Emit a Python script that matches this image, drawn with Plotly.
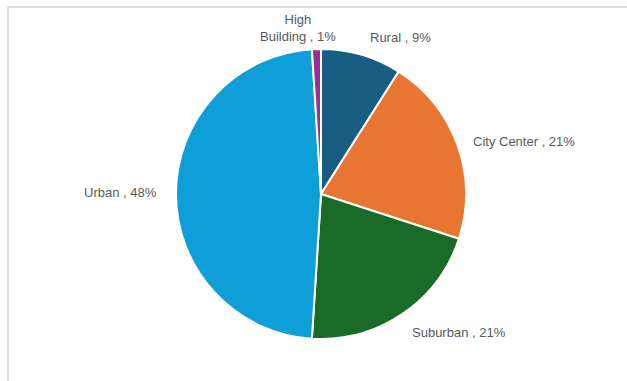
import plotly.graph_objects as go

labels = ["Rural", "City Center", "Suburban", "Urban", "High Building"]
values = [9, 21, 21, 48, 1]
colors = ["#175E82", "#E97532", "#1A6B27", "#0F9FD8", "#9B2D9B"]
label_text = ["Rural , 9%", "City Center , 21%", "Suburban , 21%", "Urban , 48%", "High<br>Building , 1%"]

W, H = 627, 381
cx, cy, r = 321, 194, 145

fig = go.Figure(go.Pie(
    labels=labels, values=values, sort=False, direction="clockwise", rotation=0,
    marker=dict(colors=colors, line=dict(color="white", width=2)),
    textinfo="none", hoverinfo="label+percent", showlegend=False,
    domain=dict(x=[(cx - r) / W, (cx + r) / W], y=[(H - cy - r) / H, (H - cy + r) / H]),
))

# label placements (pixel anchors) for each slice label
label_pos = [
    (400, 37, "center"),
    (471, 141, "left"),
    (410, 332, "left"),
    (159, 192, "right"),
    (298, 28, "center"),
]
for txt, (px, py, anc) in zip(label_text, label_pos):
    fig.add_annotation(x=px / W, y=1 - py / H, xref="paper", yref="paper", text=txt,
                       showarrow=False, xanchor=anc, yanchor="middle", align="center",
                       font=dict(family="Liberation Sans, Arial", size=13, color="#595959"))

# frame lines
fig.add_shape(type="line", xref="paper", yref="paper", x0=8 / W, x1=1, y0=1 - 7 / H, y1=1 - 7 / H,
              line=dict(color="#DCDCDC", width=2))
fig.add_shape(type="line", xref="paper", yref="paper", x0=8 / W, x1=8 / W, y0=0, y1=1 - 7 / H,
              line=dict(color="#DCDCDC", width=2))

fig.update_layout(width=W, height=H, margin=dict(l=0, r=0, t=0, b=0),
                  paper_bgcolor="white", plot_bgcolor="white")
fig.write_html("out.html")
